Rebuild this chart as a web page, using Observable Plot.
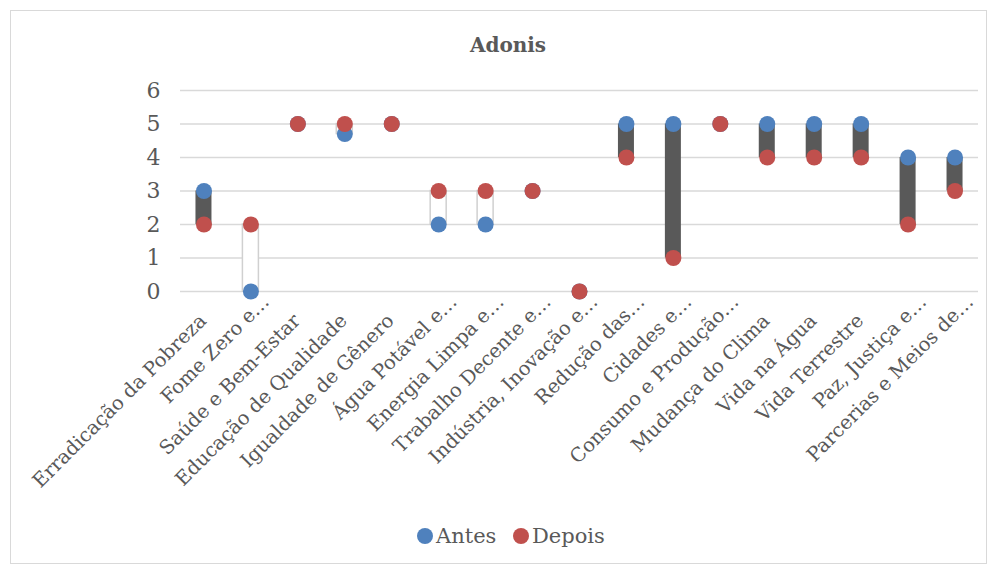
<!DOCTYPE html>
<html>
<head>
<meta charset="utf-8">
<script src="https://cdn.jsdelivr.net/npm/d3@7"></script>
<script src="https://cdn.jsdelivr.net/npm/@observablehq/plot@0.6"></script>
<style>
  body { margin: 0; background: #fff; }
  #frame { position: absolute; left: 10px; top: 10px; width: 977px; height: 554px; border: 1px solid #d9d9d9; box-sizing: border-box; }
  #title { position: absolute; left: 0; top: 33px; width: 1016px; text-align: center; font: bold 20px "DejaVu Serif", serif; color: #595959; }
  #chart { position: absolute; left: 10px; top: 70px; }
  #legend { position: absolute; top: 524px; left: 0; width: 998px; font: 21px "DejaVu Serif", serif; color: #595959; }
  .lg { position: absolute; top: 0; white-space: nowrap; }
  .dot { display: inline-block; width: 16px; height: 16px; border-radius: 50%; vertical-align: -1px; margin-right: 3px; }
</style>
</head>
<body>
<div id="frame"></div>
<div id="title">Adonis</div>
<div id="chart"></div>
<div id="legend">
  <span class="lg" style="left:417px"><span class="dot" style="background:#4F81BD"></span>Antes</span>
  <span class="lg" style="left:513px"><span class="dot" style="background:#C0504D"></span>Depois</span>
</div>
<script>
const categories = [
  "Erradicação da Pobreza", "Fome Zero e…", "Saúde e Bem-Estar", "Educação de Qualidade",
  "Igualdade de Gênero", "Água Potável e…", "Energia Limpa e…", "Trabalho Decente e…",
  "Indústria, Inovação e…", "Redução das…", "Cidades e…", "Consumo e Produção…",
  "Mudança do Clima", "Vida na Água", "Vida Terrestre", "Paz, Justiça e…", "Parcerias e Meios de…"
];
const antes  = [3, 0, 5, 4.7, 5, 2, 2, 3, 0, 5, 5, 5, 5, 5, 5, 4, 4];
const depois = [2, 2, 5, 5,   5, 3, 3, 3, 0, 4, 1, 5, 4, 4, 4, 2, 3];
const yTicks = [0, 1, 2, 3, 4, 5, 6];

const rows = categories.map((c, i) => ({cat: c, antes: antes[i], depois: depois[i]}));
const down = rows.filter(d => d.antes > d.depois);
const up = rows.filter(d => d.depois > d.antes);
const truncated = categories.filter(c => c.endsWith("…"));
const full = categories.filter(c => !c.endsWith("…"));

const inset = (798 / 17 - 16) / 2;
const axisOpts = {tickSize: 0, tickPadding: 26, tickRotate: -45, fontSize: 19.5, label: null, fill: "#595959"};

const chart = Plot.plot({
  width: 978,
  height: 430,
  marginTop: 20,
  marginBottom: 209,
  marginLeft: 170,
  marginRight: 10,
  style: {fontFamily: "DejaVu Serif, serif", color: "#595959", background: "transparent"},
  x: {domain: categories, padding: 0, round: false, label: null},
  y: {domain: [0, 6], label: null},
  marks: [
    Plot.gridY(yTicks, {stroke: "#d9d9d9", strokeOpacity: 1, strokeWidth: 1.5}),
    Plot.axisY(yTicks, {tickSize: 0, tickPadding: 20, fontSize: 22, label: null, fill: "#595959"}),
    Plot.axisX(full, {...axisOpts, dx: -1}),
    Plot.axisX(truncated, {...axisOpts, dx: 15, dy: -19}),
    Plot.barY(up, {x: "cat", y1: "antes", y2: "depois", fill: "white", stroke: "#d0d0d0", strokeWidth: 1.5, insetLeft: inset, insetRight: inset}),
    Plot.barY(down, {x: "cat", y1: "depois", y2: "antes", fill: "#595959", insetLeft: inset, insetRight: inset}),
    Plot.dot(rows, {x: "cat", y: "antes", r: 8, fill: "#4F81BD"}),
    Plot.dot(rows, {x: "cat", y: "depois", r: 8, fill: "#C0504D"})
  ]
});
document.getElementById("chart").appendChild(chart);
</script>
</body>
</html>
